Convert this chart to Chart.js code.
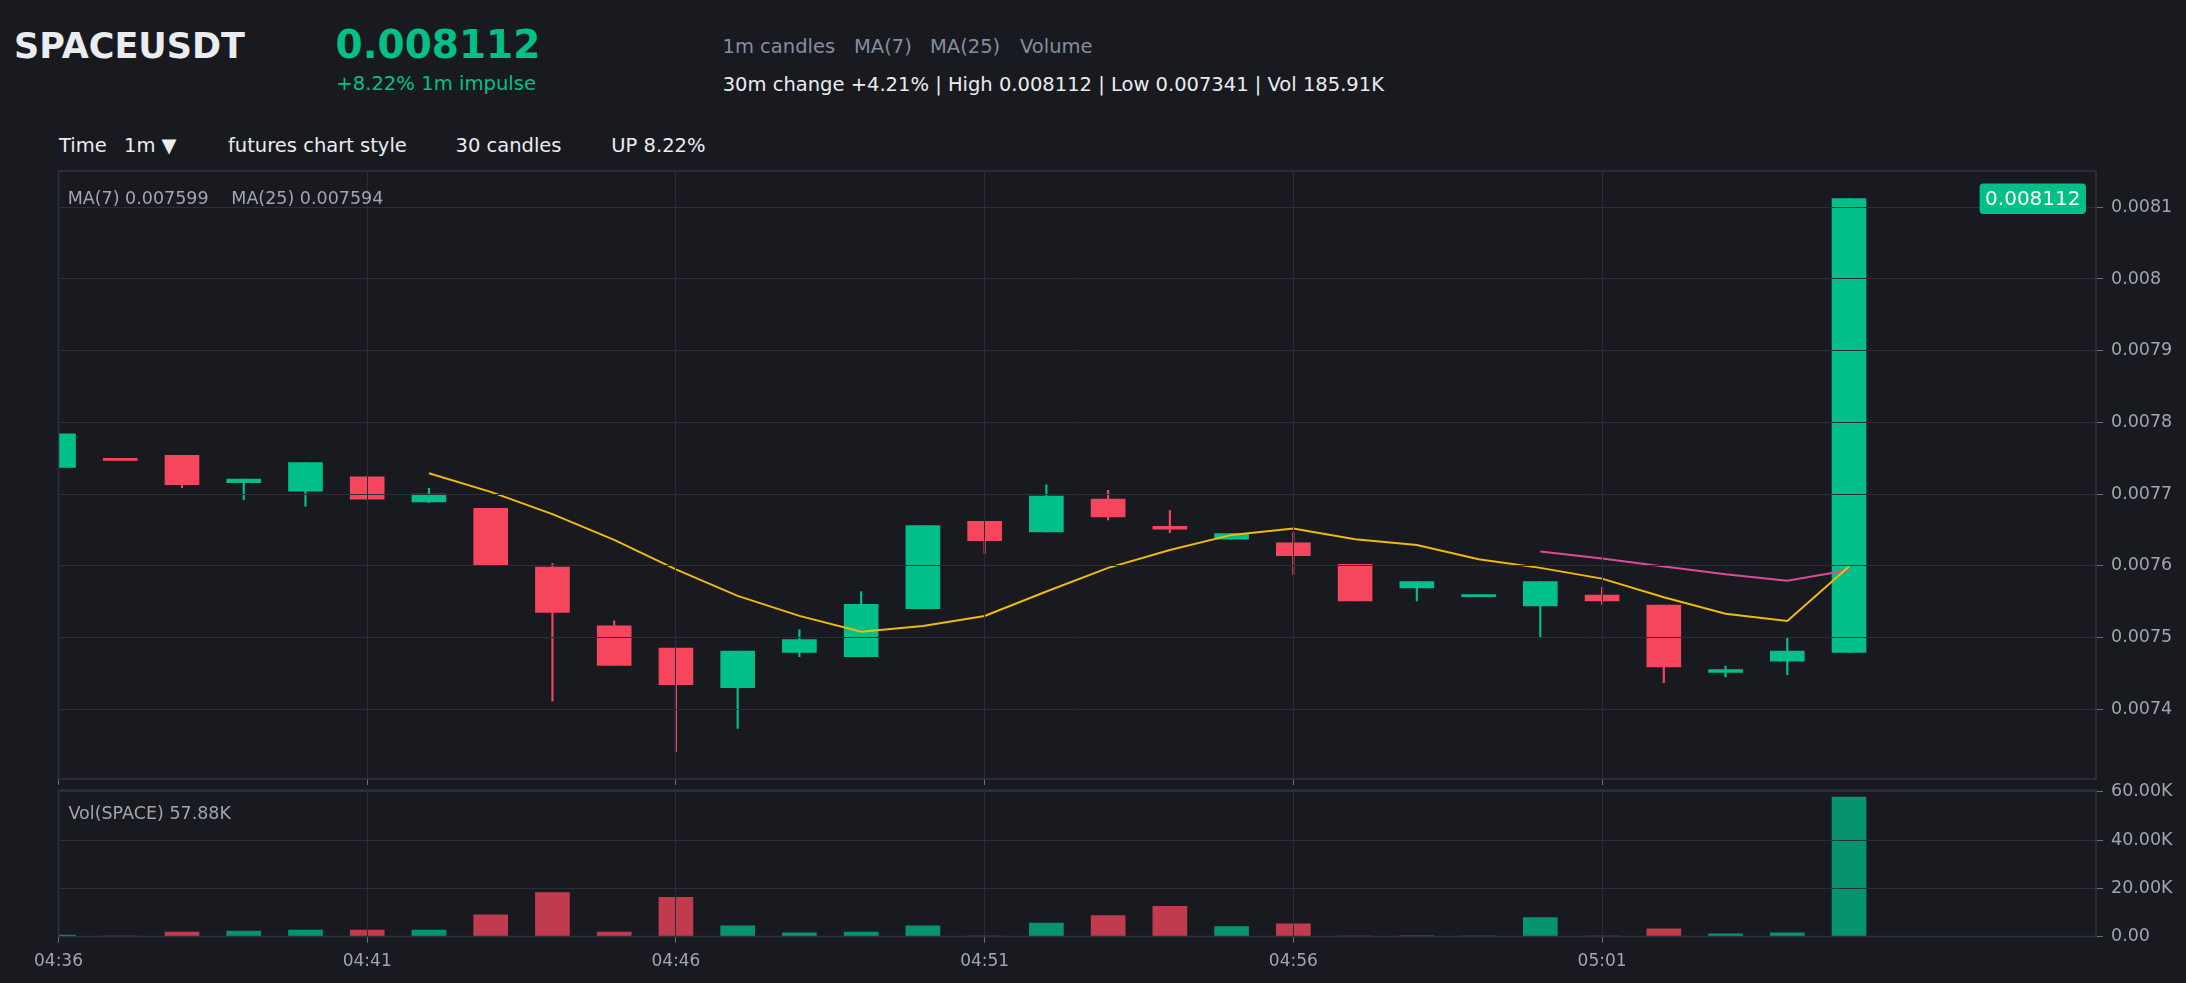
<!DOCTYPE html>
<html>
<head>
<meta charset="utf-8">
<title>SPACEUSDT 1m</title>
<script src="https://cdn.jsdelivr.net/npm/chart.js@4.4.1/dist/chart.umd.min.js"></script>
<style>
  html, body { margin: 0; padding: 0; background: #181a20; }
  body { width: 2186px; height: 983px; position: relative; overflow: hidden; font-family: 'DejaVu Sans', sans-serif; }
  .t { position: absolute; line-height: 1; white-space: pre; }
  .white { color: #eaecef; }
  .gray { color: #848e9c; }
  .green { color: #00c087; }
  .legend { color: #a1a6ae; font-size: 17.5px; z-index: 5; }
  .wrap { position: absolute; left: 0; width: 2186px; }
</style>
</head>
<body>
  <div class="t white" style="left:14px;top:28.7px;font-size:35px;font-weight:bold;">SPACEUSDT</div>
  <div class="t green" style="left:335.6px;top:25.3px;font-size:39px;font-weight:bold;">0.008112</div>
  <div class="t green" style="left:336.3px;top:74.3px;font-size:19.6px;">+8.22% 1m impulse</div>

  <div class="t gray" style="left:722.5px;top:37.2px;font-size:19.5px;">1m candles</div>
  <div class="t gray" style="left:854px;top:37.2px;font-size:19.5px;">MA(7)</div>
  <div class="t gray" style="left:930px;top:37.2px;font-size:19.5px;">MA(25)</div>
  <div class="t gray" style="left:1020px;top:37.2px;font-size:19.5px;">Volume</div>
  <div class="t white" style="left:722.7px;top:75.2px;font-size:19.5px;">30m change +4.21% | High 0.008112 | Low 0.007341 | Vol 185.91K</div>

  <div class="t white" style="left:59px;top:136.2px;font-size:19.5px;">Time</div>
  <div class="t white" style="left:124px;top:136.2px;font-size:19.5px;">1m ▼</div>
  <div class="t white" style="left:228px;top:136.2px;font-size:19.5px;">futures chart style</div>
  <div class="t white" style="left:455.5px;top:136.2px;font-size:19.5px;">30 candles</div>
  <div class="t white" style="left:611.3px;top:136.2px;font-size:19.5px;">UP 8.22%</div>

  <div class="wrap" style="top:160px;height:630px;"><canvas id="price-chart"></canvas></div>
  <div class="wrap" style="top:780px;height:203px;"><canvas id="volume-chart"></canvas></div>

  <div class="t legend" style="left:67.7px;top:189.5px;">MA(7) 0.007599</div>
  <div class="t legend" style="left:231.3px;top:189.5px;">MA(25) 0.007594</div>
  <div class="t legend" style="left:68.5px;top:805.2px;">Vol(SPACE) 57.88K</div>

<script>
// 1m candles, 04:36 .. 05:05
const timeLabels = ['04:36', '04:37', '04:38', '04:39', '04:40', '04:41', '04:42', '04:43', '04:44', '04:45',
  '04:46', '04:47', '04:48', '04:49', '04:50', '04:51', '04:52', '04:53', '04:54', '04:55',
  '04:56', '04:57', '04:58', '04:59', '05:00', '05:01', '05:02', '05:03', '05:04', '05:05'];

const openPrices = [0.007737, 0.007749, 0.007754, 0.007716, 0.007704, 0.007724, 0.007689, 0.007680, 0.007598, 0.007516,
  0.007485, 0.007430, 0.007479, 0.007473, 0.007540, 0.007662, 0.007647, 0.007693, 0.007655, 0.007637,
  0.007632, 0.007602, 0.007569, 0.007557, 0.007544, 0.007559, 0.007545, 0.007451, 0.007467, 0.007479];

const highPrices = [0.007784, 0.007749, 0.007754, 0.007721, 0.007744, 0.007724, 0.007708, 0.007680, 0.007603, 0.007523,
  0.007485, 0.007481, 0.007511, 0.007564, 0.007656, 0.007662, 0.007713, 0.007705, 0.007677, 0.007645,
  0.007647, 0.007602, 0.007578, 0.007558, 0.007578, 0.007570, 0.007545, 0.007460, 0.007500, 0.008112];

const lowPrices = [0.007737, 0.007747, 0.007709, 0.007692, 0.007683, 0.007693, 0.007688, 0.007600, 0.007411, 0.007461,
  0.007341, 0.007373, 0.007473, 0.007473, 0.007540, 0.007617, 0.007647, 0.007664, 0.007646, 0.007637,
  0.007588, 0.007551, 0.007551, 0.007557, 0.007500, 0.007546, 0.007437, 0.007445, 0.007448, 0.007479];

const closePrices = [0.007784, 0.007747, 0.007713, 0.007721, 0.007744, 0.007693, 0.007700, 0.007600, 0.007535, 0.007461,
  0.007434, 0.007481, 0.007497, 0.007546, 0.007656, 0.007635, 0.007697, 0.007668, 0.007651, 0.007645,
  0.007614, 0.007551, 0.007578, 0.007558, 0.007578, 0.007551, 0.007459, 0.007455, 0.007481, 0.008112];

const volumes = [600, 200, 1800, 2300, 2700, 2700, 2700, 9000, 18200, 1800,
  16300, 4400, 1500, 1800, 4400, 200, 5600, 8700, 12500, 4100,
  5300, 100, 300, 100, 7900, 200, 3200, 1100, 1500, 57880];

const ma7Values = [null, null, null, null, null, null, 0.007729, 0.007703, 0.007672, 0.007636,
  0.007595, 0.007558, 0.007530, 0.007508, 0.007516, 0.007530, 0.007564, 0.007597, 0.007622, 0.007643,
  0.007652, 0.007637, 0.007629, 0.007609, 0.007597, 0.007582, 0.007556, 0.007533, 0.007523, 0.007599];

const ma25Values = [null, null, null, null, null, null, null, null, null, null,
  null, null, null, null, null, null, null, null, null, null,
  null, null, null, null, 0.007620, 0.007610, 0.007599, 0.007588, 0.007579, 0.007594];

const priceTicks = [0.0074, 0.0075, 0.0076, 0.0077, 0.0078, 0.0079, 0.008, 0.0081];
const volumeTicks = [0, 20000, 40000, 60000];
const timeTickIndexes = [0, 5, 10, 15, 20, 25];

const PRICE_MIN = 0.0073025;
const PRICE_MAX = 0.0081506;
const VOLUME_MAX = 60774;
const X_MAX = 33;

const UP_COLOR = '#00c087';
const DOWN_COLOR = '#f6465d';
const UP_VOLUME_COLOR = 'rgba(0, 192, 135, 0.74)';
const DOWN_VOLUME_COLOR = 'rgba(246, 70, 93, 0.76)';
const GRID_COLOR = '#2a2e36';
const TICK_COLOR = '#6b717b';
const LABEL_COLOR = '#a1a6ae';
const FONT = 'DejaVu Sans';

Chart.defaults.font.family = FONT;

function isUp(i) {
  return closePrices[i] >= openPrices[i];
}

const panelFramePlugin = {
  id: 'panelFrame',
  afterDraw(chart) {
    const { ctx, chartArea } = chart;
    ctx.save();
    ctx.strokeStyle = '#2e333b';
    ctx.lineWidth = 1.5;
    ctx.strokeRect(chartArea.left, chartArea.top, chartArea.right - chartArea.left, chartArea.bottom - chartArea.top);
    ctx.restore();
  },
};

const lastPricePlugin = {
  id: 'lastPrice',
  afterDraw(chart) {
    const { ctx, chartArea, scales } = chart;
    const lastPrice = closePrices[closePrices.length - 1];
    const text = lastPrice.toFixed(6);
    const y = scales.y.getPixelForValue(lastPrice);

    ctx.save();
    ctx.font = `20px "${FONT}"`;
    const w = ctx.measureText(text).width + 11;
    const h = 30.5;
    const right = chartArea.right - 10;
    ctx.fillStyle = UP_COLOR;
    ctx.beginPath();
    ctx.roundRect(right - w, y - h / 2, w, h, 4);
    ctx.fill();
    ctx.fillStyle = '#ffffff';
    ctx.textAlign = 'center';
    ctx.textBaseline = 'middle';
    ctx.fillText(text, right - w / 2, y + 1);
    ctx.restore();
  },
};

function createTimeScale(showLabels, height) {
  return {
    type: 'linear',
    min: 0,
    max: X_MAX,
    offset: false,
    afterBuildTicks: (scale) => {
      scale.ticks = timeTickIndexes.map((v) => ({ value: v }));
    },
    afterFit: (scale) => {
      scale.height = height;
      scale.paddingLeft = 0;
      scale.paddingRight = 0;
    },
    ticks: {
      display: showLabels,
      color: LABEL_COLOR,
      font: { size: 17 },
      padding: 9,
      maxRotation: 0,
      autoSkip: false,
      callback: (value) => timeLabels[value],
    },
    grid: {
      color: GRID_COLOR,
      tickColor: TICK_COLOR,
      tickLength: 6,
      offset: false,
      z: 1,
    },
    border: { display: false },
  };
}

function createValueScale(min, max, ticks, formatter) {
  return {
    position: 'right',
    min: min,
    max: max,
    afterBuildTicks: (scale) => {
      scale.ticks = ticks.map((v) => ({ value: v }));
    },
    afterFit: (scale) => {
      scale.width = 90;
      scale.paddingTop = 0;
      scale.paddingBottom = 0;
    },
    ticks: {
      color: LABEL_COLOR,
      font: { size: 17.5 },
      padding: 8,
      callback: formatter,
    },
    grid: {
      color: GRID_COLOR,
      tickColor: TICK_COLOR,
      tickLength: 7,
      z: 1,
    },
    border: { display: false },
  };
}

function createPriceDatasets() {
  const bodies = openPrices.map((o, i) => ({ x: i, y: [o, closePrices[i]] }));
  const wicks = lowPrices.map((l, i) => ({ x: i, y: [l, highPrices[i]] }));
  const candleColors = openPrices.map((o, i) => (isUp(i) ? UP_COLOR : DOWN_COLOR));

  return [
    {
      type: 'line',
      data: ma7Values.map((v, i) => ({ x: i, y: v })),
      borderColor: '#f0b90b',
      borderWidth: 2,
      pointRadius: 0,
      tension: 0,
      order: 0,
    },
    {
      type: 'line',
      data: ma25Values.map((v, i) => ({ x: i, y: v })),
      borderColor: '#dc4c96',
      borderWidth: 2,
      pointRadius: 0,
      tension: 0,
      order: 0,
    },
    {
      data: bodies,
      backgroundColor: candleColors,
      barThickness: 34,
      minBarLength: 2,
      grouped: false,
      order: 1,
    },
    {
      data: wicks,
      backgroundColor: candleColors,
      barThickness: 1.5,
      grouped: false,
      order: 2,
    },
  ];
}

function createPriceChart() {
  const ctx = document.getElementById('price-chart').getContext('2d');

  return new Chart(ctx, {
    type: 'bar',
    data: { datasets: createPriceDatasets() },
    options: {
      responsive: true,
      maintainAspectRatio: false,
      animation: false,
      layout: { padding: { left: 58.5, top: 11, right: 0, bottom: 0 } },
      plugins: { legend: { display: false }, tooltip: { enabled: false } },
      scales: {
        x: createTimeScale(false, 11),
        y: createValueScale(PRICE_MIN, PRICE_MAX, priceTicks, (v) => String(+v.toFixed(6))),
      },
    },
    plugins: [panelFramePlugin, lastPricePlugin],
  });
}

function createVolumeChart() {
  const ctx = document.getElementById('volume-chart').getContext('2d');

  return new Chart(ctx, {
    type: 'bar',
    data: {
      datasets: [
        {
          data: volumes.map((v, i) => ({ x: i, y: v })),
          backgroundColor: volumes.map((v, i) => (isUp(i) ? UP_VOLUME_COLOR : DOWN_VOLUME_COLOR)),
          barThickness: 34,
        },
      ],
    },
    options: {
      responsive: true,
      maintainAspectRatio: false,
      animation: false,
      layout: { padding: { left: 58.5, top: 10, right: 0, bottom: 0 } },
      plugins: { legend: { display: false }, tooltip: { enabled: false } },
      scales: {
        x: createTimeScale(true, 46.5),
        y: createValueScale(0, VOLUME_MAX, volumeTicks, (v) => (v === 0 ? '0.00' : `${(v / 1000).toFixed(2)}K`)),
      },
    },
    plugins: [panelFramePlugin],
  });
}

createPriceChart();
createVolumeChart();
</script>
</body>
</html>
